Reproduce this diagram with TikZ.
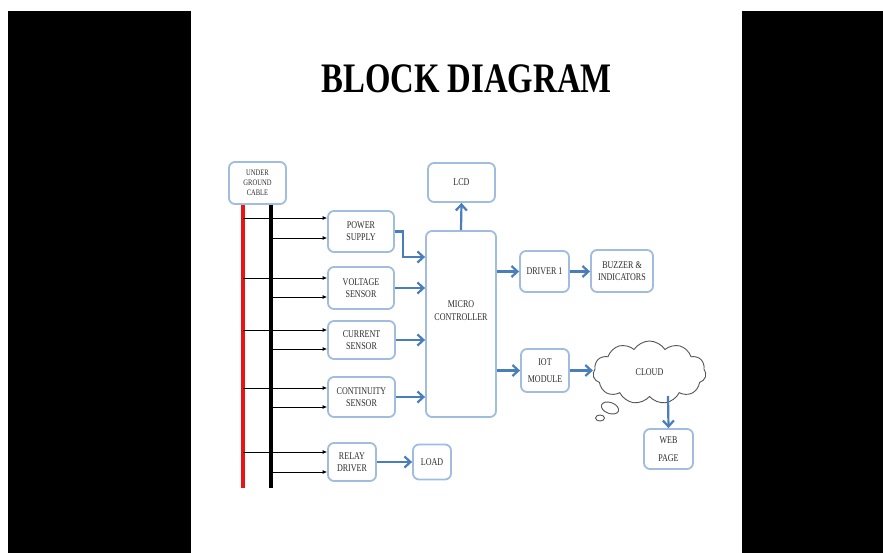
\documentclass[tikz,border=0pt]{standalone}
\usepackage{fontspec}
\setmainfont[FakeStretch=0.78]{Liberation Serif}
\usetikzlibrary{arrows.meta,shapes.symbols}
\definecolor{boxc}{RGB}{160,188,222}
\definecolor{arrc}{RGB}{74,126,187}
\definecolor{txtc}{RGB}{45,45,45}
\definecolor{cabred}{RGB}{235,20,20}
\definecolor{cloudc}{RGB}{85,85,85}
\begin{document}
\begin{tikzpicture}[x=1pt,y=-1pt,
 blk/.style={draw=boxc,line width=1.8pt,rounded corners=6pt,fill=white,align=center,text=txtc,inner sep=1pt,font=\fontsize{10.3}{12}\selectfont},
 barrow/.style={draw=arrc,line width=2.2pt,-{Straight Barb[length=6pt,width=11pt]}},
 karrow/.style={draw=black,line width=0.8pt,-{Latex[length=4.5pt,width=4pt]}},
 cable/.style={line width=3.6pt},
]
\useasboundingbox (0,0) rectangle (883,553);
\fill[white] (0,0) rectangle (883,553);
\fill[black] (8,11) rectangle (191,553);
\fill[black] (742,11) rectangle (883,553);

\node[anchor=base,font=\fontsize{42}{44}\selectfont\bfseries] (title) at (466.5,93) {BLOCK DIAGRAM};

% blocks
\node[blk,minimum width=57pt,minimum height=42pt,font=\fontsize{8.4}{10}\selectfont] (ugc) at (257.5,183) {UNDER\\GROUND\\CABLE};
\node[blk,minimum width=66pt,minimum height=41pt] (ps) at (361,231.5) {POWER\\SUPPLY};
\node[blk,minimum width=66pt,minimum height=42pt] (vs) at (361,288) {VOLTAGE\\SENSOR};
\node[blk,minimum width=67pt,minimum height=38pt] (cs) at (361.5,340) {CURRENT\\SENSOR};
\node[blk,minimum width=67pt,minimum height=40pt] (cont) at (361.5,397) {CONTINUITY\\SENSOR};
\node[blk,minimum width=48pt,minimum height=38pt] (rd) at (352,462) {RELAY\\DRIVER};
\node[blk,minimum width=38pt,minimum height=35pt] (load) at (432,462) {LOAD};
\node[blk,minimum width=67pt,minimum height=39pt] (lcd) at (461.5,182.5) {LCD};
\node[blk,minimum width=70pt,minimum height=186pt,font=\fontsize{10.3}{13}\selectfont] (mc) at (461,324) {MICRO\\CONTROLLER\\[14pt]};
\node[blk,minimum width=49pt,minimum height=41pt] (d1) at (544.5,271.5) {DRIVER 1};
\node[blk,minimum width=62pt,minimum height=42pt] (buz) at (622,271) {BUZZER \&\\INDICATORS};
\node[blk,minimum width=48pt,minimum height=43pt,font=\fontsize{10.3}{17}\selectfont] (iot) at (545,370.5) {IOT\\MODULE};
\node[cloud,draw=cloudc,line width=0.9pt,cloud puffs=11,cloud puff arc=115,aspect=1.8,minimum width=113pt,minimum height=63pt,inner sep=0pt,text=txtc,font=\fontsize{10.3}{12}\selectfont] (cloud) at (649.5,372.5) {CLOUD};
\node[blk,minimum width=49pt,minimum height=40pt,font=\fontsize{10.3}{18}\selectfont] (web) at (668.5,449) {WEB\\PAGE};

% thought bubbles
\draw[cloudc,line width=0.9pt,rotate around={-20:(610,408)}] (610,408) ellipse [x radius=9pt,y radius=5.5pt];
\draw[cloudc,line width=0.9pt] (600,418) ellipse [x radius=4.5pt,y radius=3pt];

% cable lines
\coordinate (rtop) at (243,205);
\coordinate (rbot) at (243,488);
\coordinate (ktop) at (271,205);
\coordinate (kbot) at (271,488);
\draw[cable,cabred] (rtop) -- (rbot);
\draw[cable,black] (ktop) -- (kbot);

% black arrows from red line
\coordinate (r1) at (243,218);
\coordinate (r2) at (243,278);
\coordinate (r3) at (243,330);
\coordinate (r4) at (243,388);
\coordinate (r5) at (243,452);
\draw[karrow] (r1) -- (r1 -| ps.west);
\draw[karrow] (r2) -- (r2 -| vs.west);
\draw[karrow] (r3) -- (r3 -| cs.west);
\draw[karrow] (r4) -- (r4 -| cont.west);
\draw[karrow] (r5) -- (r5 -| rd.west);
% black arrows from black line
\coordinate (k1) at (271,238);
\coordinate (k2) at (271,297);
\coordinate (k3) at (271,349);
\coordinate (k4) at (271,407);
\coordinate (k5) at (271,472);
\draw[karrow] (k1) -- (k1 -| ps.west);
\draw[karrow] (k2) -- (k2 -| vs.west);
\draw[karrow] (k3) -- (k3 -| cs.west);
\draw[karrow] (k4) -- (k4 -| cont.west);
\draw[karrow] (k5) -- (k5 -| rd.west);

% blue arrows
\coordinate (psbend) at (403,257);
\draw[barrow] (ps.east) -| (psbend) -- (psbend -| mc.west);
\draw[barrow] (vs.east) -- (vs.east -| mc.west);
\draw[barrow] (cs.east) -- (cs.east -| mc.west);
\draw[barrow] (cont.east) -- (cont.east -| mc.west);
\draw[barrow] (mc.north) -- (lcd.south);
\draw[barrow] (d1.west -| mc.east) -- (d1.west);
\draw[barrow] (d1.east) -- (d1.east -| buz.west);
\draw[barrow] (iot.west -| mc.east) -- (iot.west);
\draw[barrow] (iot.east) -- (iot.east -| cloud.west);
\coordinate (cbot) at (668,396);
\draw[barrow] (cbot) -- (web.north);
\draw[barrow] (rd.east) -- (load.west);
\end{tikzpicture}
\end{document}
